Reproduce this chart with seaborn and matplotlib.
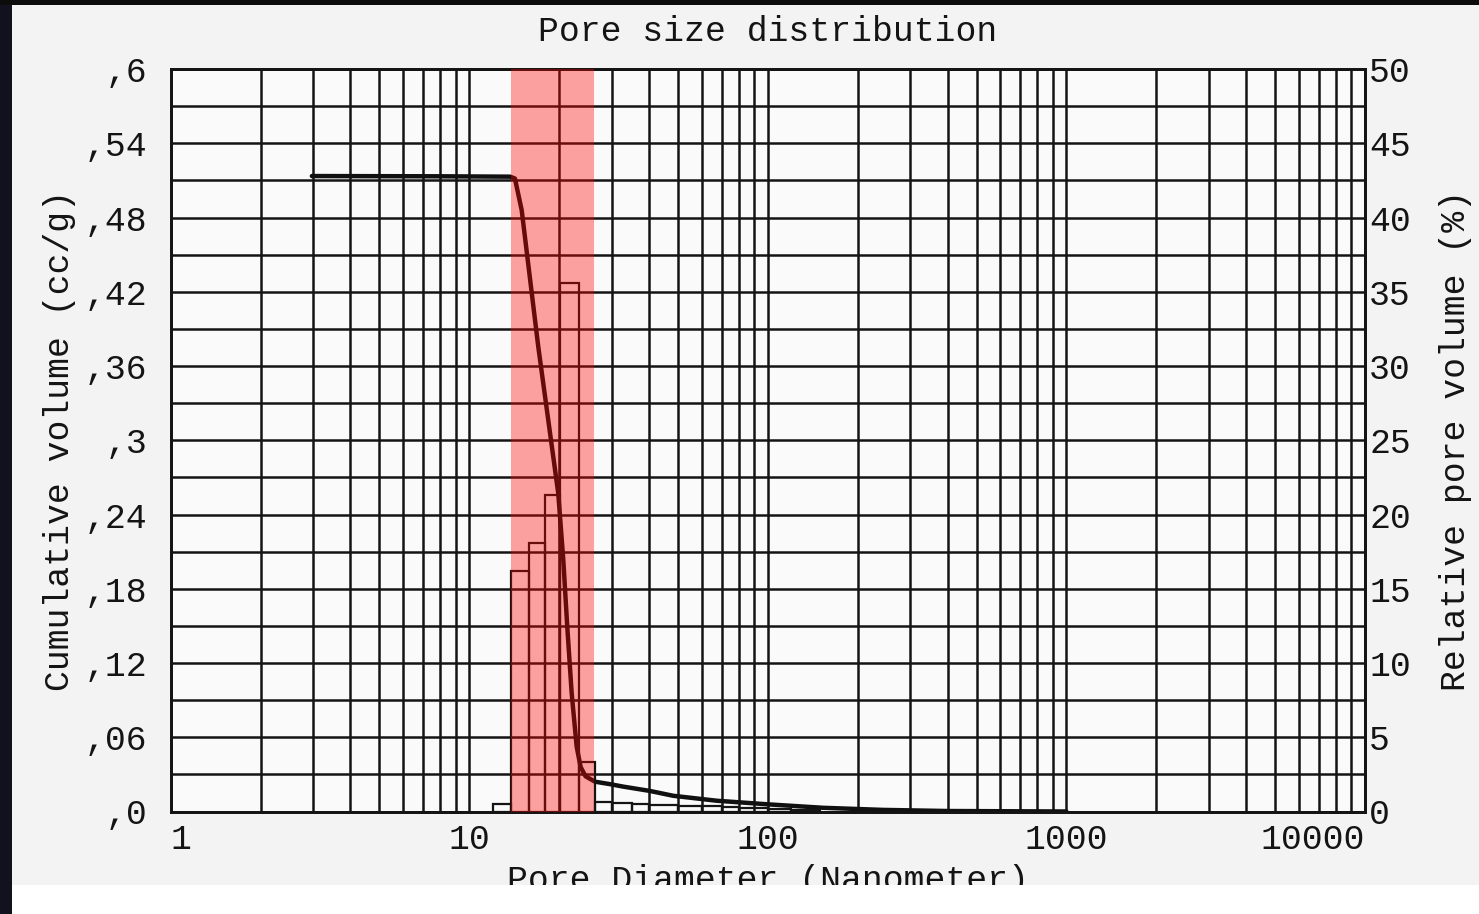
import numpy as np
import pandas as pd
import matplotlib
matplotlib.use("Agg")
import matplotlib.pyplot as plt
from matplotlib.patches import Rectangle
from matplotlib.ticker import FixedLocator, LogLocator, NullFormatter
import seaborn as sns

# ---------------- data ----------------
title = "Pore size distribution"
xlabel = "Pore Diameter (Nanometer)"
ylabel_left = "Cumulative volume (cc/g)"
ylabel_right = "Relative pore volume (%)"

# cumulative intrusion curve (diameter nm, cc/g)
cum_diam = [2.97, 8.0, 13.7, 14.22, 14.98, 17.02, 19.86, 20.65, 21.29, 22.03,
            22.89, 23.6, 24.5, 26.36, 29.6, 32.8, 40.3, 48.2, 67.4, 100, 153, 243, 400, 1000]
cum_vol = [0.5135, 0.5133, 0.513, 0.5115, 0.486, 0.3758, 0.2571, 0.2032, 0.1493, 0.0955,
           0.0524, 0.036, 0.0285, 0.0241, 0.0221, 0.0201, 0.0166, 0.0127, 0.0087, 0.0058,
           0.003, 0.0013, 0.0004, 0.0]

# relative pore volume histogram (bin edges in nm, %)
bin_left = [12.03, 13.76, 15.88, 17.93, 20.12, 23.36, 26.36, 30, 35, 40, 50, 60, 70, 80, 100, 120]
bin_right = [13.76, 15.88, 17.93, 20.12, 23.36, 26.36, 30, 35, 40, 50, 60, 70, 80, 100, 120, 150]
rel_vol = [0.5, 16.2, 18.1, 21.3, 35.6, 3.3, 0.65, 0.6, 0.5, 0.45, 0.4, 0.35, 0.3, 0.25, 0.15, 0.1]

# highlighted diameter band (nm)
band = [13.76, 26.2]

# tick labels
x_ticks = [1, 10, 100, 1000, 10000]
x_ticklabels = ["1", "10", "100", "1000", "10000"]
yl_ticks = [0.0, 0.06, 0.12, 0.18, 0.24, 0.30, 0.36, 0.42, 0.48, 0.54, 0.60]
yl_ticklabels = [",0", ",06", ",12", ",18", ",24", ",3", ",36", ",42", ",48", ",54", ",6"]
yr_ticks = [0, 5, 10, 15, 20, 25, 30, 35, 40, 45, 50]
yr_ticklabels = ["0", "5", "10", "15", "20", "25", "30", "35", "40", "45", "50"]

# ---------------- style ----------------
sns.set_style("white")
plt.rcParams["font.family"] = ["Liberation Mono", "DejaVu Sans Mono"]
FS = 25
INK = "#141414"

W, H = 1479, 914
fig = plt.figure(figsize=(W / 100, H / 100), dpi=100, facecolor="#f3f3f3")

L, R, T, B = 170.7, 1365.0, 69.0, 811.5
ax = fig.add_axes([L / W, 1 - B / H, (R - L) / W, (B - T) / H])
ax.set_facecolor("#fafafa")
ax2 = ax.twinx()

ax.set_xscale("log")
ax.set_xlim(1, 10000)
ax.set_ylim(0, 0.6)
ax2.set_ylim(0, 50)

# grid
ax.xaxis.set_major_locator(FixedLocator(x_ticks))
ax.xaxis.set_minor_locator(LogLocator(base=10, subs=np.arange(2, 10)))
ax.xaxis.set_minor_formatter(NullFormatter())
ax.set_yticks(yl_ticks)
ax.yaxis.set_minor_locator(FixedLocator(np.array(yl_ticks[:-1]) + 0.03))
ax.grid(True, which="both", axis="both", color=INK, linewidth=1.8)
ax.set_axisbelow(True)

# cumulative curve
df_cum = pd.DataFrame({"d": cum_diam, "v": cum_vol})
sns.lineplot(data=df_cum, x="d", y="v", ax=ax, color="#101010", linewidth=3.2,
             sort=False, zorder=5)

# histogram bars (outline only)
widths = np.array(bin_right) - np.array(bin_left)
ax2.bar(bin_left, rel_vol, width=widths, align="edge", fill=False,
        edgecolor=INK, linewidth=1.6, zorder=3)

# highlighted band on top
ax2.axvspan(band[0], band[1], color="red", alpha=0.36, lw=0, zorder=10)

# ticks and labels
ax.set_xticks(x_ticks)
ax.set_xticklabels(x_ticklabels, fontsize=FS)
xl = ax.get_xticklabels()
xl[0].set_ha("left")
xl[-1].set_ha("right")
ax.set_yticklabels(yl_ticklabels, fontsize=FS)
ax2.set_yticks(yr_ticks)
ax2.set_yticklabels(yr_ticklabels, fontsize=FS)

ax.tick_params(axis="x", which="both", length=0, pad=8, colors=INK)
ax.tick_params(axis="y", which="both", length=0, pad=17, colors=INK)
ax2.tick_params(axis="y", length=0, pad=3, colors=INK)

ax.set_xlabel(xlabel, fontsize=FS, color=INK, labelpad=6)
ax.set_ylabel(ylabel_left, fontsize=FS, color=INK, labelpad=6)
ax2.set_ylabel(ylabel_right, fontsize=FS, color=INK, labelpad=20)
ax.set_title(title, fontsize=FS, color=INK, pad=20)

for a in (ax, ax2):
    for s in a.spines.values():
        s.set_visible(True)
        s.set_color(INK)
        s.set_linewidth(2.0)

# scan frame: white strip at bottom, dark strips at left and top
fig.add_artist(Rectangle((0, 0), 1, 29 / H, transform=fig.transFigure,
                         facecolor="white", edgecolor="none", zorder=20))
fig.add_artist(Rectangle((0, 0), 12 / W, 1, transform=fig.transFigure,
                         facecolor="#12121e", edgecolor="none", zorder=21))
fig.add_artist(Rectangle((0, 1 - 5 / H), 1, 5 / H, transform=fig.transFigure,
                         facecolor="#0c0c0c", edgecolor="none", zorder=21))

fig.savefig("out.png", dpi=100, facecolor=fig.get_facecolor())
